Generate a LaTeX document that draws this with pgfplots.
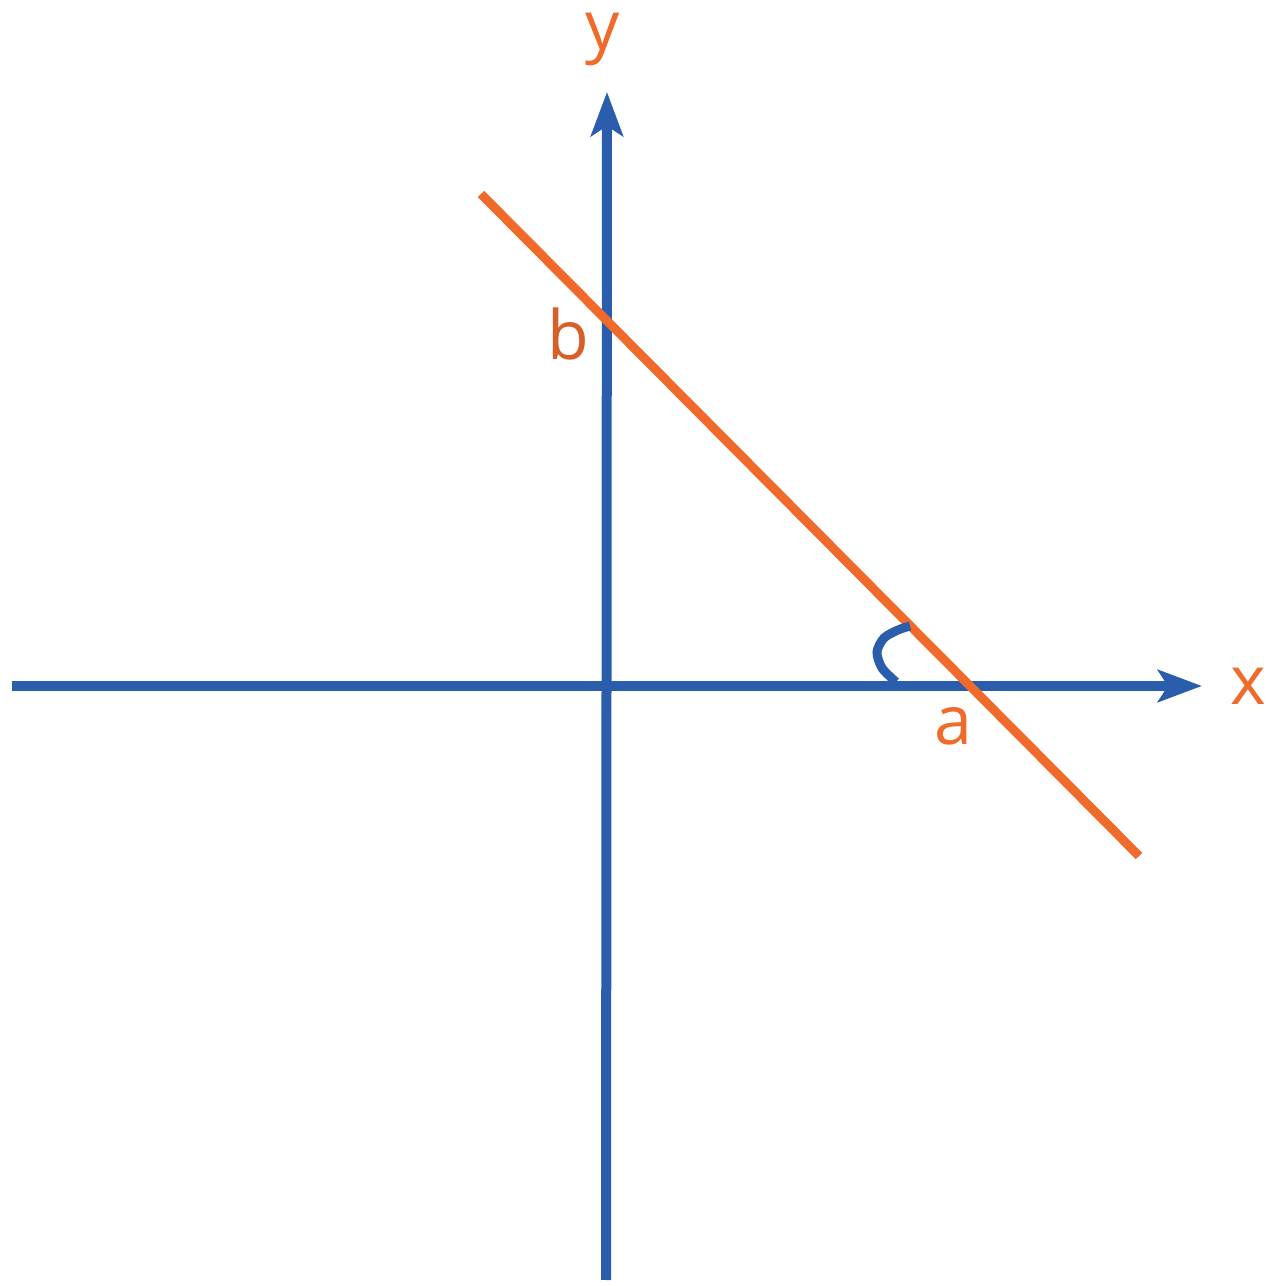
\documentclass[border=0pt]{standalone}
\usepackage{pgfplots}
\pgfplotsset{compat=1.18}
\usepackage{fontspec}
\setmainfont{Open Sans}
\usetikzlibrary{arrows.meta}
\definecolor{axblue}{HTML}{2A5DAB}
\definecolor{lnorange}{HTML}{F06A2B}
\begin{document}
\begin{tikzpicture}
\begin{axis}[
  x=0.5pt, y=0.5pt,
  xmin=-606, xmax=665, ymin=-600, ymax=686,
  hide axis, clip=false, scale only axis,
]
\addplot[axblue, line width=5pt, -{Stealth[length=22pt,width=16pt,inset=5pt]}] coordinates {(-594,0) (596,0)};
\addplot[axblue, line width=5pt, -{Stealth[length=22pt,width=16pt,inset=5pt]}] coordinates {(0,-594) (1,594)};
\addplot[lnorange, line width=4.5pt] coordinates {(-125,492) (533,-170)};
\addplot[axblue, line width=4.5pt, smooth] coordinates {(290,4) (276,18) (271,34) (278,48) (292,56) (304,60)};
\node[lnorange, anchor=base, inner sep=0pt, font=\fontsize{34}{40}\selectfont] at (axis cs:-3,636) {y};
\node[lnorange, anchor=base, inner sep=0pt, font=\fontsize{34}{40}\selectfont] at (axis cs:642,-19) {x};
\node[lnorange!90!black, anchor=base, inner sep=0pt, font=\fontsize{34}{40}\selectfont] at (axis cs:-38,326) {b};
\node[lnorange, anchor=base, inner sep=0pt, font=\fontsize{34}{40}\selectfont] at (axis cs:347,-59) {a};
\end{axis}
\pgfresetboundingbox
\useasboundingbox (current axis.south west) rectangle (current axis.north east);
\end{tikzpicture}
\end{document}
